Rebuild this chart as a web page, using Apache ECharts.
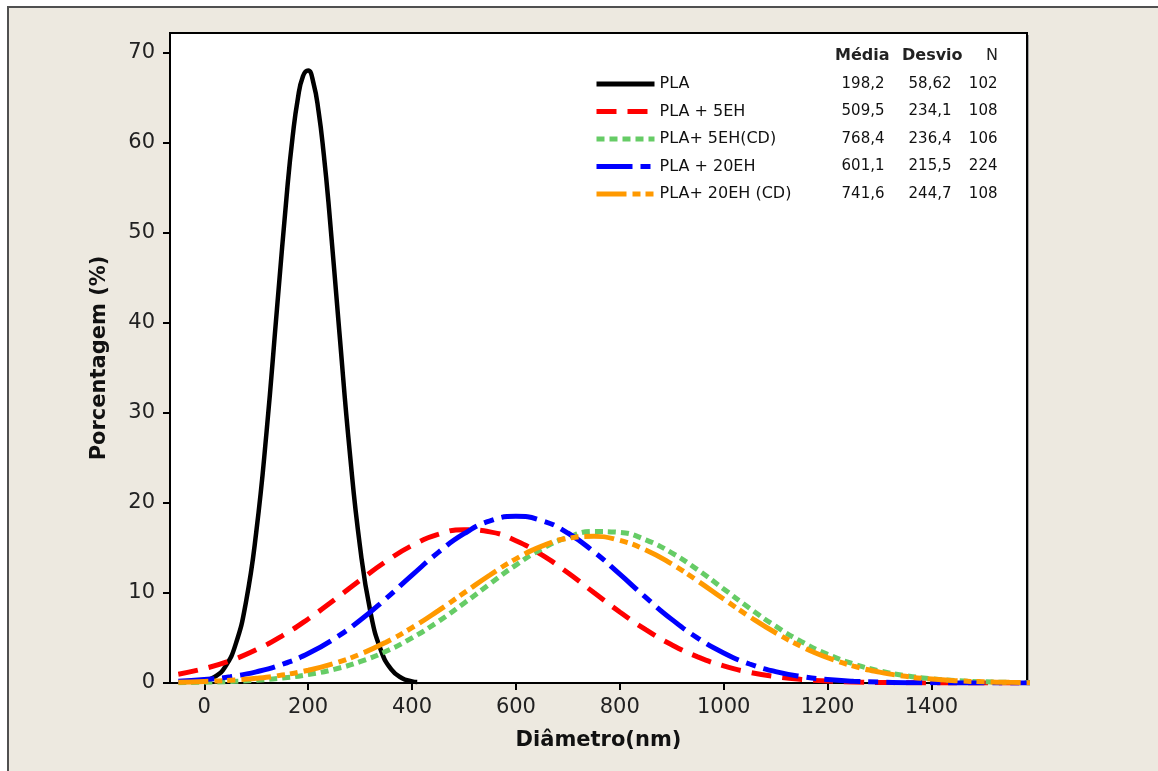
<!DOCTYPE html>
<html>
<head>
<meta charset="utf-8">
<script src="https://cdn.jsdelivr.net/npm/echarts@6/dist/echarts.min.js"></script>
<style>
html,body{margin:0;padding:0;background:#fff;}
#chart{width:1158px;height:771px;}
</style>
</head>
<body>
<div id="chart"></div>
<script>
// ---- data ----
const seriesNames = ['PLA', 'PLA + 5EH', 'PLA+ 5EH(CD)', 'PLA + 20EH', 'PLA+ 20EH (CD)'];
const means = [198.2, 509.5, 768.4, 601.1, 741.6];
const stdevs = [58.62, 234.1, 236.4, 215.5, 244.7];
const counts = [102, 108, 106, 224, 108];

const xTicks = [0, 200, 400, 600, 800, 1000, 1200, 1400];
const yTicks = [0, 10, 20, 30, 40, 50, 60, 70];

// x positions (nm) of the narrow PLA curve
const xPLA = [0, 20, 40, 60, 80, 100, 120, 140, 160, 170, 180, 190, 200, 210, 220, 230, 240, 260, 280, 300, 320, 340, 360, 380, 400, 410];
const yPLA = [0.22, 0.67, 1.78, 4.23, 8.91, 16.73, 27.95, 41.58, 55.04, 60.62, 64.86, 67.40, 68.03, 66.69, 63.52, 58.75, 52.79, 39.04, 25.71, 15.07, 7.86, 3.65, 1.51, 0.55, 0.18, 0.10];

// x positions (nm) of the broad curves
const xBroad = [-50, 0, 50, 100, 150, 200, 250, 300, 350, 400, 450, 500, 550, 600, 650, 700, 750, 800,
  850, 900, 950, 1000, 1050, 1100, 1150, 1200, 1250, 1300, 1350, 1400, 1450, 1500, 1550, 1600];
const y5EH = [0.98, 1.60, 2.48, 3.69, 5.24, 7.11, 9.22, 11.42, 13.51, 15.27, 16.50, 17.03, 16.79, 15.81, 14.23, 12.24, 10.05, 7.89,
  5.92, 4.24, 2.90, 1.90, 1.19, 0.71, 0.40, 0.22, 0.11, 0.06, 0.03, 0.01, 0.00, 0.00, 0.00, 0.00];
const y5EHCD = [0.04, 0.09, 0.17, 0.31, 0.55, 0.94, 1.52, 2.37, 3.52, 5.01, 6.81, 8.86, 11.02, 13.10, 14.89, 16.19, 16.83, 16.73,
  15.90, 14.46, 12.57, 10.45, 8.30, 6.31, 4.59, 3.19, 2.12, 1.35, 0.82, 0.48, 0.26, 0.14, 0.07, 0.03];
const y20EH = [0.19, 0.38, 0.70, 1.24, 2.07, 3.27, 4.91, 6.97, 9.39, 11.98, 14.48, 16.58, 18.00, 18.51, 18.04, 16.66, 14.58, 12.09,
  9.50, 7.07, 4.99, 3.34, 2.11, 1.27, 0.72, 0.39, 0.20, 0.10, 0.04, 0.02, 0.01, 0.00, 0.00, 0.00];
const y20EHCD = [0.09, 0.17, 0.30, 0.52, 0.88, 1.41, 2.17, 3.20, 4.53, 6.15, 8.01, 10.01, 12.00, 13.79, 15.20, 16.07, 16.29, 15.84,
  14.78, 13.22, 11.34, 9.33, 7.37, 5.58, 4.05, 2.82, 1.88, 1.21, 0.74, 0.44, 0.25, 0.13, 0.07, 0.03];

// ---- styles ----
const colors = ['#000000', '#ff0000', '#66cc66', '#0000ff', '#ff9900'];
const dashes = ['solid', [20, 11], [8, 5], [36, 8, 10, 8], [30, 6, 8, 5, 8, 6]];
const widths = [4.5, 5, 5, 5, 5];
const FONT = '"DejaVu Sans", sans-serif';

function pairs(xs, ys) { return xs.map((x, i) => [x, ys[i]]); }
const allY = [yPLA, y5EH, y5EHCD, y20EH, y20EHCD];
const allX = [xPLA, xBroad, xBroad, xBroad, xBroad];
const fmt = v => String(v).replace('.', ',');

const series = seriesNames.map((name, i) => ({
  name: name,
  type: 'line',
  data: pairs(allX[i], allY[i]),
  smooth: 0.5,
  showSymbol: false,
  symbol: 'none',
  clip: true,
  color: colors[i],
  lineStyle: { color: colors[i], width: widths[i], type: dashes[i], cap: 'butt' },
  emphasis: { disabled: true }
}));

const chart = echarts.init(document.getElementById('chart'), null, { renderer: 'canvas' });
chart.setOption({
  animation: false,
  backgroundColor: '#ffffff',
  textStyle: { fontFamily: FONT },
  graphic: [
    { type: 'rect', z: -100, silent: true,
      shape: { x: 8, y: 7, width: 1200, height: 800 },
      style: { fill: '#ede9e0', stroke: '#505050', lineWidth: 2 } },
    { type: 'rect', z: -50, silent: true,
      shape: { x: 1027, y: 35, width: 2, height: 650 },
      style: { fill: '#a0a0a0' } },
    { type: 'text', left: 835, top: 48, style: { text: 'Média', font: 'bold 16px ' + FONT, fill: '#222' } },
    { type: 'text', left: 902, top: 48, style: { text: 'Desvio', font: 'bold 16px ' + FONT, fill: '#222' } },
    { type: 'text', left: 986, top: 48, style: { text: 'N', font: '16px ' + FONT, fill: '#222' } }
  ],
  grid: {
    left: 170, right: 131, top: 33, bottom: 88,
    show: true, backgroundColor: '#ffffff', borderColor: '#000', borderWidth: 2
  },
  legend: {
    show: true,
    orient: 'vertical',
    left: 589, top: 69,
    itemWidth: 58, itemHeight: 8,
    itemGap: 7.5,
    selectedMode: false,
    data: seriesNames,
    itemStyle: { opacity: 0 },
    lineStyle: { width: 5 },
    formatter: function (name) {
      const i = seriesNames.indexOf(name);
      return '{n|' + name + '}{m|' + fmt(means[i]) + '}{s|' + fmt(stdevs[i]) + '}{c|' + counts[i] + '}';
    },
    textStyle: {
      fontFamily: FONT, fontSize: 16, color: '#111', lineHeight: 20,
      rich: {
        n: { width: 167, align: 'left', fontSize: 16, fontFamily: FONT, color: '#111' },
        m: { width: 58, align: 'right', fontSize: 15, fontFamily: FONT, color: '#111' },
        s: { width: 67, align: 'right', fontSize: 15, fontFamily: FONT, color: '#111' },
        c: { width: 46, align: 'right', fontSize: 15, fontFamily: FONT, color: '#111' }
      }
    }
  },
  xAxis: {
    type: 'value',
    min: -66, max: 1584,
    name: 'Diâmetro(nm)',
    nameLocation: 'middle',
    nameGap: 47,
    nameTextStyle: { fontFamily: FONT, fontSize: 21, fontWeight: 'bold', color: '#111' },
    axisLine: { show: true, onZero: false, lineStyle: { color: '#000', width: 2 } },
    axisTick: { show: true, inside: false, length: 7, customValues: xTicks, lineStyle: { color: '#000', width: 2 } },
    axisLabel: { customValues: xTicks, formatter: v => String(v), margin: 14, fontFamily: FONT, fontSize: 21, color: '#222' },
    splitLine: { show: false }
  },
  yAxis: {
    type: 'value',
    min: 0, max: 72.2,
    name: 'Porcentagem (%)',
    nameLocation: 'middle',
    nameRotate: 90,
    nameGap: 60,
    nameTextStyle: { fontFamily: FONT, fontSize: 21, fontWeight: 'bold', color: '#111' },
    axisLine: { show: true, onZero: false, lineStyle: { color: '#000', width: 2 } },
    axisTick: { show: true, inside: false, length: 7, customValues: yTicks, lineStyle: { color: '#000', width: 2 } },
    axisLabel: { customValues: yTicks, formatter: v => String(v), margin: 15, fontFamily: FONT, fontSize: 21, color: '#222' },
    splitLine: { show: false }
  },
  series: series
});
</script>
</body>
</html>
